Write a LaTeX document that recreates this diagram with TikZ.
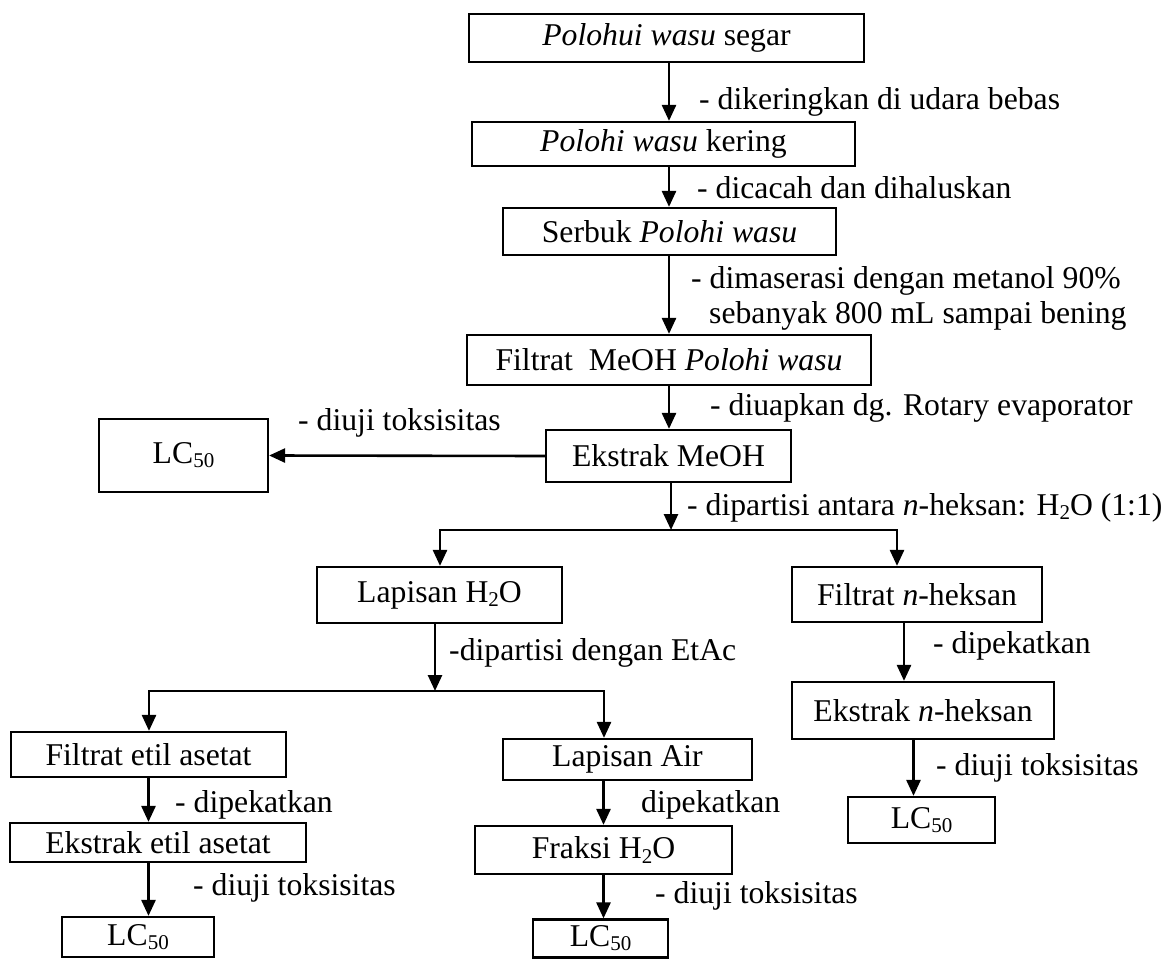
\documentclass[tikz,border=0pt]{standalone}
\usepackage{fontspec}
\setmainfont{Liberation Serif}
\usetikzlibrary{arrows.meta,calc}
\newcommand\lsub[1]{\raisebox{-0.13em}{\fontsize{21}{21}\selectfont #1}}
\begin{document}
\begin{tikzpicture}[x=1pt,y=-1pt,
  font=\fontsize{31.7}{38}\selectfont,
  box/.style={draw,line width=2.2pt,inner sep=0pt},
  lab/.style={anchor=base west,inner sep=0pt},
  arr/.style={line width=2.6pt,-{Triangle[length=16pt,width=14pt]}}]
\useasboundingbox (0,0) rectangle (1166,960);
% boxes
\node[box,minimum width=395pt,minimum height=48pt] (B1) at (666.5,38) {\textit{Polohui wasu} segar};
\node[box,minimum width=383pt,minimum height=44pt] (B2) at (663.5,144) {\textit{Polohi wasu} kering};
\node[box,minimum width=333pt,minimum height=47pt] (B3) at (669.5,231.5) {Serbuk \textit{Polohi wasu}};
\node[box,minimum width=404pt,minimum height=50pt] (B4) at (669,360) {Filtrat\ \ MeOH \textit{Polohi wasu}};
\node[box,minimum width=245pt,minimum height=52pt] (B5) at (668.5,456) {Ekstrak MeOH};
\node[box,minimum width=169pt,minimum height=73pt] (L1) at (183.5,455.5) {LC\lsub{50}};
\node[box,minimum width=245pt,minimum height=56pt] (B6) at (439.5,595) {Lapisan H\lsub{2}O};
\node[box,minimum width=250pt,minimum height=55pt] (B7) at (917,594.5) {Filtrat \textit{n}-heksan};
\node[box,minimum width=262pt,minimum height=57pt] (B8) at (923,710.5) {Ekstrak \textit{n}-heksan};
\node[box,minimum width=147pt,minimum height=46pt] (L4) at (921.5,820) {LC\lsub{50}};
\node[box,minimum width=275pt,minimum height=45pt] (B9) at (148.5,754.5) {Filtrat etil asetat};
\node[box,minimum width=296pt,minimum height=39pt] (B10) at (158,842.5) {Ekstrak etil asetat};
\node[box,minimum width=152pt,minimum height=40pt] (L2) at (138,937) {LC\lsub{50}};
\node[box,minimum width=249pt,minimum height=41pt] (B11) at (627.5,759.5) {Lapisan Air};
\node[box,minimum width=257pt,minimum height=48pt] (B12) at (603.5,850) {Fraksi H\lsub{2}O};
\node[box,minimum width=135pt,minimum height=38pt] (L3) at (600.5,938.5) {LC\lsub{50}};
% split points
\coordinate (s1) at (671,530);
\coordinate (s1l) at (440,530);
\coordinate (s1r) at (897,530);
\coordinate (s2) at (435,691);
\coordinate (s2l) at (149,691);
\coordinate (s2r) at (604,691);
% connectors
\draw[arr] (B1.south -| B4.center) -- (B2.north -| B4.center);
\draw[arr] (B2.south -| B4.center) -- (B3.north -| B4.center);
\draw[arr] (B3.south -| B4.center) -- (B4.north);
\draw[arr] (B4.south) -- (B5.north -| B4.center);
\draw[arr] (B5.west) -- (L1.east);
\draw[arr] (B5.south -| s1) -- (s1);
\draw[arr] (s1r) -- (s1l) -- (s1l |- B6.north);
\draw[arr] (s1l) -- (s1r) -- (s1r |- B7.north);
\draw[arr] (B6.south -| s2) -- (s2);
\draw[arr] (s2r) -- (s2l) -- (s2l |- B9.north);
\draw[arr] (s2l) -- (s2r) -- (s2r |- B11.north);
\draw[arr] (B9.south) -- (B10.north -| B9.south);
\draw[arr] (B10.south -| B9.south) -- (L2.north -| B9.south);
\draw[arr] (B11.south -| B12.north) -- (B12.north);
\draw[arr] (B12.south) -- (L3.north -| B12.south);
\draw[arr] ([xshift=-13pt]B7.south) -- ([xshift=-13pt]B7.south |- B8.north);
\draw[arr] ([xshift=-8pt]L4.north |- B8.south) -- ([xshift=-8pt]L4.north);
% labels
\node[lab] (t1) at (699,110) {- dikeringkan di udara bebas};
\node[lab] (t2) at (697,198) {- dicacah dan dihaluskan};
\node[lab] (t3) at (691,288) {- dimaserasi dengan metanol 90\%};
\node[lab] (t4) at (709,323) {sebanyak 800 mL sampai bening};
\node[lab] (t5) at (710,415) {- diuapkan dg. Rotary evaporator};
\node[lab] (t6) at (298,430) {- diuji toksisitas};
\node[lab] (t7) at (687,515) {- dipartisi antara \textit{n}-heksan: H\lsub{2}O (1:1)};
\node[lab] (t8) at (449,660) {-dipartisi dengan EtAc};
\node[lab] (t9) at (933,653) {- dipekatkan};
\node[lab] (t10) at (936,775) {- diuji toksisitas};
\node[lab] (t11) at (175,812) {- dipekatkan};
\node[lab] (t12) at (193,895) {- diuji toksisitas};
\node[lab] (t13) at (641,812) {dipekatkan};
\node[lab] (t14) at (655,903) {- diuji toksisitas};
\end{tikzpicture}
\end{document}
